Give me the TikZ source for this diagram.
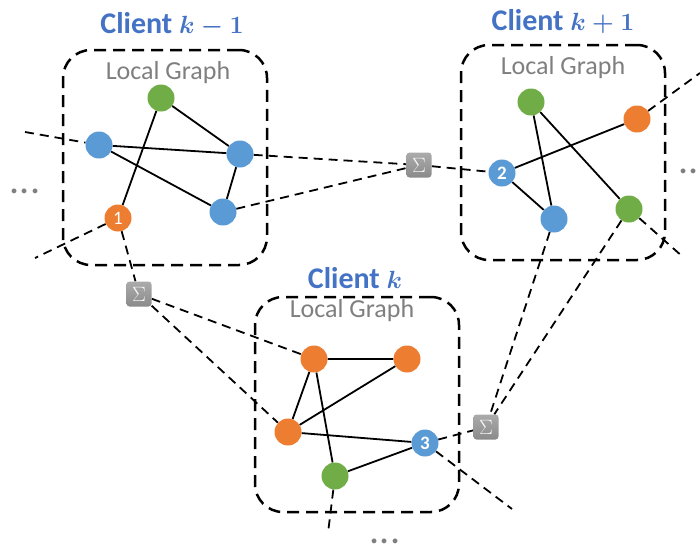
\documentclass[tikz,border=0pt]{standalone}
\usepackage{fontspec}
\setmainfont{Carlito}
\pgfdeclarelayer{bg}
\pgfsetlayers{bg,main}
\definecolor{titleblue}{HTML}{4472C4}
\definecolor{nblue}{HTML}{5B9BD5}
\definecolor{norange}{HTML}{ED7D31}
\definecolor{ngreen}{HTML}{70AD47}
\definecolor{txtgray}{HTML}{7F7F7F}
\definecolor{aggtop}{HTML}{ABABAB}
\definecolor{aggbot}{HTML}{8A8A8A}
\tikzset{
  vtx/.style={circle, minimum size=27pt, inner sep=0pt},
  bv/.style={vtx, fill=nblue},
  ov/.style={vtx, fill=norange},
  gv/.style={vtx, fill=ngreen},
  num/.style={text=white, font=\fontsize{19}{19}\selectfont},
  numb/.style={text=white, font=\fontsize{19}{19}\selectfont\bfseries},
  edge/.style={line width=1.8pt},
  link/.style={line width=1.8pt, dash pattern=on 9pt off 6pt},
  frame/.style={draw, line width=2.5pt, dash pattern=on 12pt off 7pt,
    rounded corners=28pt, minimum width=204pt, minimum height=215pt, inner sep=0pt},
  agg/.style={minimum size=25pt, rounded corners=3pt, top color=aggtop,
    bottom color=aggbot, text=white!92!gray, inner sep=0pt,
    font=\fontsize{21}{21}\selectfont},
  title/.style={text=titleblue, font=\fontsize{30}{30}\selectfont\bfseries\boldmath},
  caption/.style={text=txtgray, font=\fontsize{26}{26}\selectfont},
  dots/.style={text=txtgray, font=\fontsize{40}{40}\selectfont, anchor=base, inner sep=0pt}
}
\begin{document}
\begin{tikzpicture}[x=1pt, y=-1pt]
\useasboundingbox (0,0) rectangle (700,544);

% frames of the three local graphs
\node[frame] (frA) at (165,157.5) {};
\node[frame] (frB) at (563,152.5) {};
\node[frame] (frC) at (357,404.5) {};

% titles and captions
\node[title] (tA) at (172,25) {Client $k-1$};
\node[title] (tB) at (563,22) {Client $k+1$};
\node[title] (tC) at (355,278) {Client $k$};
\node[caption] (cA) at (168,73) {Local Graph};
\node[caption] (cB) at (563,68) {Local Graph};
\node[caption] (cC) at (352,311) {Local Graph};

% client k-1
\node[gv] (a1) at (161,98) {};
\node[bv] (a2) at (99,145) {};
\node[bv] (a3) at (240,154) {};
\node[bv] (a4) at (223,212) {};
\node[ov, num] (a5) at (118,218) {1};

% client k+1
\node[gv] (b1) at (531,102) {};
\node[ov] (b2) at (637,119) {};
\node[bv, numb] (b3) at (502,173) {2};
\node[bv] (b4) at (554,219) {};
\node[gv] (b5) at (629,209) {};

% client k
\node[ov] (c1) at (314,359) {};
\node[ov] (c2) at (407,359) {};
\node[ov] (c3) at (288,432) {};
\node[gv] (c4) at (335,476) {};
\node[bv, numb] (c5) at (425,443) {3};

% aggregation points
\node[agg] (s1) at (419,165) {$\Sigma$};
\node[agg] (s2) at (139,294) {$\Sigma$};
\node[agg] (s3) at (486,427) {$\Sigma$};

% loose ends
\coordinate (eA1) at (25,132);
\coordinate (eA2) at (35,258);
\coordinate (eB1) at (700,73);
\coordinate (eB2) at (683,257);
\coordinate (eC1) at (328,533);
\coordinate (eC2) at (512,509);

% ellipses
\node[dots] (dl) at (25,193) {...};
\node[dots] (dr) at (694,173) {...};
\node[dots] (db) at (385,543) {...};

\begin{pgfonlayer}{bg}
  % local edges
  \draw[edge] (a1) -- (a3) (a1) -- (a5) (a2) -- (a3) (a2) -- (a4) (a3) -- (a4);
  \draw[edge] (b2) -- (b3) (b1) -- (b4) (b1) -- (b5) (b3) -- (b4);
  \draw[edge] (c1) -- (c2) (c1) -- (c3) (c3) -- (c2) (c1) -- (c4)
              (c3) -- (c5) (c4) -- (c5);
  % cross-client links
  \draw[link] (eA1) -- (a2);
  \draw[link] (a3) -- (s1);
  \draw[link] (a4) -- (s1);
  \draw[link] (s1) -- (b3);
  \draw[link] (a5) -- (eA2);
  \draw[link] (a5) -- (s2);
  \draw[link] (s2) -- (c1);
  \draw[link] (s2) -- (c3);
  \draw[link] (b2) -- (eB1);
  \draw[link] (b5) -- (eB2);
  \draw[link] (b4) -- (s3);
  \draw[link] (b5) -- (s3);
  \draw[link] (c5) -- (s3);
  \draw[link] (c5) -- (eC2);
  \draw[link] (c4) -- (eC1);
\end{pgfonlayer}
\end{tikzpicture}
\end{document}
